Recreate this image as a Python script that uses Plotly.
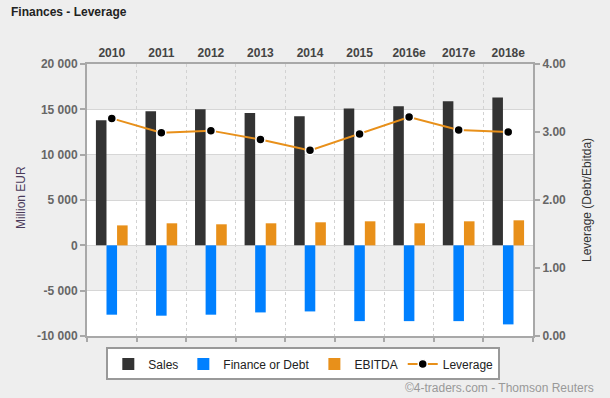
import plotly.graph_objects as go

years = ["2010", "2011", "2012", "2013", "2014", "2015", "2016e", "2017e", "2018e"]
sales = [13800, 14800, 15000, 14600, 14250, 15100, 15350, 15900, 16300]
debt = [-7650, -7760, -7650, -7400, -7290, -8360, -8360, -8360, -8720]
ebitda = [2200, 2430, 2320, 2430, 2540, 2650, 2430, 2650, 2760]
leverage = [3.20, 2.99, 3.02, 2.89, 2.73, 2.97, 3.22, 3.03, 3.00]

left_ticks = [-10000, -5000, 0, 5000, 10000, 15000, 20000]
left_labels = ["-10 000", "-5 000", "0", "5 000", "10 000", "15 000", "20 000"]
right_ticks = [0, 1, 2, 3, 4]
right_labels = ["0.00", "1.00", "2.00", "3.00", "4.00"]
gray_bands = [(-5000, 0), (5000, 10000), (15000, 20000)]

FONT = "Arial, Liberation Sans, sans-serif"
AX = "#a8a8a8"

fig = go.Figure()
fig.add_trace(go.Bar(name="Sales", x=years, y=sales, marker_color="#333333",
                     marker_line_width=0))
fig.add_trace(go.Bar(name="Finance or Debt", x=years, y=debt, marker_color="#0080ff",
                     marker_line_width=0))
fig.add_trace(go.Bar(name="EBITDA", x=years, y=ebitda, marker_color="#e8901a",
                     marker_line_width=0))
fig.add_trace(go.Scatter(name="Leverage", x=years, y=leverage, xaxis="x2", yaxis="y2",
                         mode="lines+markers",
                         line=dict(color="#e8901a", width=2),
                         marker=dict(color="black", size=9,
                                     line=dict(color="white", width=1.5))))

shapes = []
for lo, hi in gray_bands:
    shapes.append(dict(type="rect", xref="paper", yref="y", x0=0, x1=1, y0=lo, y1=hi,
                       fillcolor="#eeeeee", line_width=0, layer="below"))

fig.update_layout(
    width=610, height=398,
    paper_bgcolor="#eeeeee", plot_bgcolor="white",
    margin=dict(l=87, r=77, t=64, b=62, autoexpand=False),
    barmode="group", bargap=0.36, bargroupgap=0,
    font=dict(family=FONT, size=12, color="#333333"),
    shapes=shapes,
    showlegend=True,
    legend=dict(orientation="h", x=0.485, xanchor="center", y=-0.042, yanchor="top",
                bgcolor="white", bordercolor="#999999", borderwidth=2,
                font=dict(family=FONT, size=12, color="#222222"),
                traceorder="normal", itemwidth=30),
    xaxis=dict(type="category", side="top", showline=True, linecolor=AX, linewidth=2,
               mirror=True, tickson="boundaries", ticks="", showgrid=True,
               gridcolor="#d2d2d2", griddash="dot", gridwidth=1, automargin=False,
               tickfont=dict(family=FONT, size=12, color="#444444", weight="bold"),
               range=[-0.5, 8.5]),
    xaxis2=dict(type="category", overlaying="x", side="bottom", matches="x",
                tickson="boundaries", ticks="outside", ticklen=5, tickcolor=AX, tickwidth=2,
                showticklabels=False, showgrid=False, showline=False, automargin=False),
    yaxis=dict(range=[-10000, 20000], tickvals=left_ticks, ticktext=left_labels,
               showline=True, linecolor=AX, linewidth=2, ticks="outside", ticklen=5,
               tickcolor=AX, tickwidth=2, showgrid=True, gridcolor="#d6d6d6",
               zeroline=False, automargin=False,
               tickfont=dict(family=FONT, size=12, color="#666666", weight="bold")),
    yaxis2=dict(range=[0, 4], tickvals=right_ticks, ticktext=right_labels,
                overlaying="y", side="right", showline=True, linecolor=AX, linewidth=2,
                ticks="outside", ticklen=5, tickcolor=AX, tickwidth=2,
                showgrid=False, zeroline=False, automargin=False,
                tickfont=dict(family=FONT, size=12, color="#666666", weight="bold")),
)

pl, pr, pt, pb = 87, 610 - 77, 64, 398 - 62


def ann(text, px, py, color, angle=0, xanchor="center", bold=False):
    return dict(text=f"<b>{text}</b>" if bold else text,
                x=(px - pl) / (pr - pl), y=(pb - py) / (pb - pt),
                xref="paper", yref="paper", showarrow=False, textangle=angle,
                xanchor=xanchor, yanchor="middle",
                font=dict(family=FONT, size=12, color=color))


fig.update_layout(annotations=[
    ann("Finances - Leverage", 9, 12, "#222222", xanchor="left", bold=True),
    ann("Million EUR", 21, 198, "#4a3a5a", angle=-90),
    ann("Leverage (Debt/Ebitda)", 587, 200, "#333333", angle=-90),
    ann("©4-traders.com - Thomson Reuters", 596, 388, "#999999", xanchor="right"),
])

fig.write_html("out.html", config={"displayModeBar": False},
               post_script="document.body.style.margin='0';"
                           "document.body.style.overflow='hidden';")
